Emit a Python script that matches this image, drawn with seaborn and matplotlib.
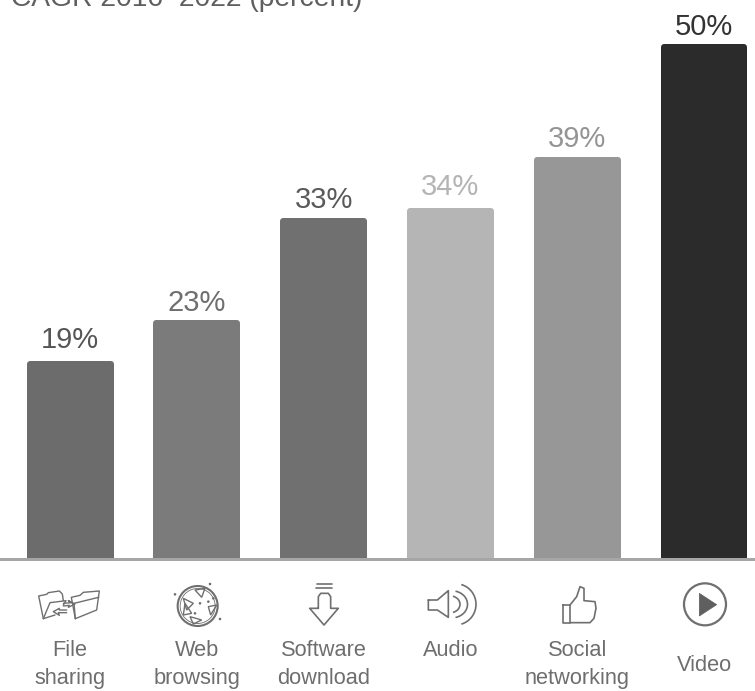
import numpy as np
import matplotlib
matplotlib.use("Agg")
import matplotlib.pyplot as plt
from matplotlib.patches import Polygon, Circle, Arc
import seaborn as sns

categories = ["File\nsharing", "Web\nbrowsing", "Software\ndownload", "Audio", "Social\nnetworking", "Video"]
values = [19, 23, 33, 34, 39, 50]
value_labels = ["19%", "23%", "33%", "34%", "39%", "50%"]
bar_colors = ["#6c6c6c", "#7b7b7b", "#707070", "#b5b5b5", "#979797", "#2b2b2b"]
label_colors = ["#555555", "#6f6f6f", "#5a5a5a", "#b4b4b4", "#949494", "#333333"]
label_pads = [7.8, 5.0, 5.4, 7.4, 5.1, 4.0]
title = "CAGR 2016\u20132022 (percent)"

W, H = 755, 691
BASE = 559
PX_PER_UNIT = 10.24
STEP = 126.8
X0 = 70.0
PX = 72 / 100  # points per pixel

sns.set_theme(style="white")
plt.rcParams["font.family"] = ["Liberation Sans", "DejaVu Sans"]

fig = plt.figure(figsize=(W / 100, H / 100), dpi=100)
ax = fig.add_axes([0, (H - BASE) / H, 1, BASE / H])
sns.barplot(x=categories, y=values, hue=categories, palette=bar_colors, legend=False,
            width=81 / STEP, dodge=False, saturation=1, ax=ax, linewidth=6 * PX)

for cont, lab, col, bc, pad in zip(ax.containers, value_labels, label_colors, bar_colors, label_pads):
    for p in cont:
        p.set_edgecolor(bc)
        p.set_joinstyle("round")
    ax.bar_label(cont, labels=[lab], padding=pad, fontsize=21, color=col)

ax.set_xlim(-X0 / STEP, (W - X0) / STEP)
ax.set_ylim(0, BASE / PX_PER_UNIT)
ax.set_yticks([])
ax.set_ylabel("")
ax.set_xlabel("")
for s in ["top", "left", "right"]:
    ax.spines[s].set_visible(False)
ax.spines["bottom"].set_color("#a6a6a6")
ax.spines["bottom"].set_linewidth(3 * PX)
ax.tick_params(axis="x", length=0, labelsize=15.7, labelcolor="#6e6e6e")
for lab in ax.get_xticklabels():
    lab.set_linespacing(1.45)
for i, t in enumerate(ax.xaxis.get_major_ticks()):
    t.set_pad((96 if categories[i] == "Video" else 81) * PX)

ax.set_title(title, loc="left", x=11 / W, y=1 - 6 / BASE, fontsize=20.3, color="#5f5f5f", pad=0)

# icon layer in pixel coordinates
ov = fig.add_axes([0, 0, 1, 1], facecolor="none")
ov.set_xlim(0, W)
ov.set_ylim(H, 0)
ov.axis("off")
IC = "#6f6f6f"
LW = 1.0


def z1(pts):
    return [(x / 3, 560 + y / 3) for x, y in pts]


def z2(pts):
    return [(390 + x / 3, 560 + y / 3) for x, y in pts]


def line(pts, lw=LW, color=IC):
    a = np.array(pts)
    ov.plot(a[:, 0], a[:, 1], color=color, lw=lw, solid_capstyle="round", solid_joinstyle="round")


# file sharing
line(z1([(130, 176), (116, 108), (140, 103), (145, 98), (178, 93), (187, 102), (190, 122)]))
line(z1([(130, 176), (150, 128), (198, 122), (190, 135)]))
line(z1([(130, 176), (165, 165)]))
line(z1([(226, 176), (214, 112), (240, 106), (250, 97), (298, 93), (290, 150), (226, 176)]))
line(z1([(226, 176), (222, 130), (296, 112)]))
line(z1([(190, 130), (215, 128), (205, 122), (225, 132), (205, 142), (208, 136), (190, 138)]))
line(z1([(200, 158), (175, 158), (178, 166), (160, 155), (178, 145), (178, 150), (200, 150)]))

# web browsing
ov.add_patch(Circle(z1([(593, 138)])[0], 20, fill=False, ec=IC, lw=1.5))
ov.add_patch(Circle(z1([(593, 138)])[0], 17.5, fill=False, ec=IC, lw=0.6))
for tri in ([(585, 90), (615, 85), (605, 112)], [(550, 115), (580, 130), (560, 150)],
            [(625, 140), (650, 135), (632, 165)], [(570, 170), (605, 180), (580, 192)],
            [(555, 130), (575, 160), (550, 165)]):
    ov.add_patch(Polygon(z1(tri), closed=True, fill=False, ec=IC, lw=1.0))
for dot in [(525, 103), (630, 72), (660, 177), (625, 125), (585, 160), (600, 130), (640, 115)]:
    c = z1([dot])[0]
    ov.add_patch(Circle(c, 1.3, color=IC, lw=0))

# software download
line(z1([(950, 72), (995, 72)]), lw=1.2)
line(z1([(948, 85), (995, 85)]), lw=1.2)
line(z1([(955, 145), (955, 110), (962, 100), (985, 100), (992, 110), (992, 145), (1015, 145),
         (972, 195), (929, 145), (955, 145)]), lw=1.2)

# audio
line(z2([(115, 120), (142, 120), (175, 92), (175, 172), (142, 150), (115, 150), (115, 120)]), lw=1.2)
ay = z2([(0, 133)])[0][1]
ov.add_patch(Arc((450, ay), 20, 17, theta1=-70, theta2=70, ec=IC, lw=1.2))
ov.add_patch(Arc((452, ay), 31, 27, theta1=-75, theta2=75, ec=IC, lw=1.2))
ov.add_patch(Arc((456, ay), 40, 41, theta1=-75, theta2=75, ec=IC, lw=1.2))

# social networking
line(z2([(518, 135), (540, 135), (540, 188), (518, 188), (518, 135)]), lw=1.2)
line(z2([(540, 135), (560, 110), (570, 80), (582, 85), (582, 122), (615, 125), (618, 145), (612, 175),
         (600, 188), (540, 188)]), lw=1.2)

# video
pc = z2([(945, 133)])[0]
ov.add_patch(Circle(pc, 21, fill=False, ec=IC, lw=1.6))
ov.add_patch(Polygon(z2([(928, 100), (928, 168), (980, 134)]), closed=True, fc="#5f5f5f", ec="#5f5f5f", lw=0.5))

fig.savefig("out.png", dpi=100, facecolor="white")
